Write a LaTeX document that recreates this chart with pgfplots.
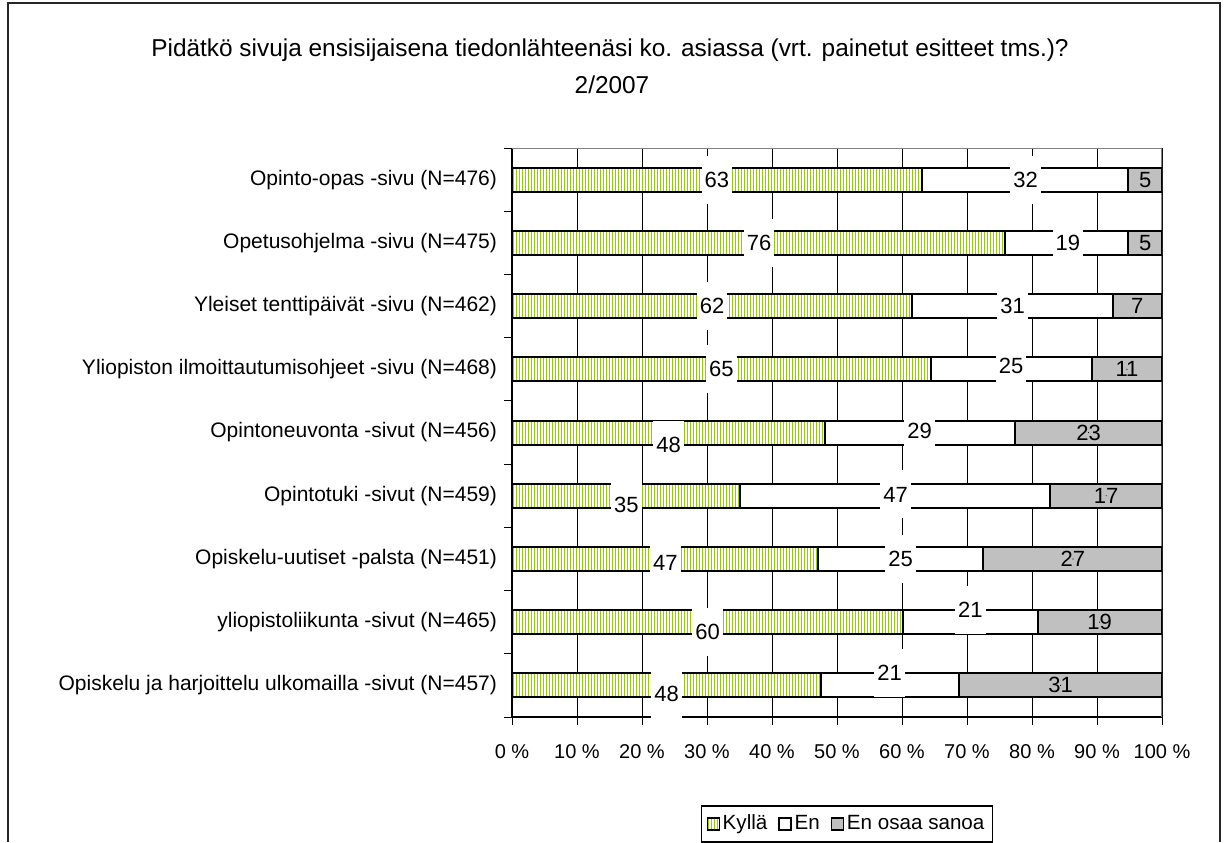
\documentclass[border=0pt]{standalone}
\usepackage{fontspec}
\setmainfont{Liberation Sans}
\usepackage{pgfplots}
\usepackage{pgfplotstable}
\pgfplotsset{compat=1.18}
\usetikzlibrary{patterns.meta}
\definecolor{kgreen}{RGB}{153,204,0}
\definecolor{egray}{RGB}{192,192,192}

\pgfplotstableread{
y kylla en eos
1 63.1 31.7 5.2
2 75.8 19.0 5.2
3 61.5 31.0 7.5
4 64.5 24.7 10.8
5 48.2 29.2 22.6
6 35.1 47.7 17.2
7 47.1 25.4 27.5
8 60.2 20.7 19.1
9 47.5 21.3 31.2
}\data

\pgfplotstableread{
x y label
31.5 1 63
79 1 32
38 2 76
85.5 2 19
30.8 3 62
77 3 31
32.2 4 65
76.8 3.94 25
24.1 5.19 48
62.7 4.98 29
17.6 6.14 35
59 5.98 47
23.6 7.07 47
59.8 7 25
30.1 8.16 60
70.5 7.8 21
23.8 9.14 48
58.1 8.8 21
}\lab

\pgfplotstableread{
x y label
97.4 1 5
97.4 2 5
96.2 3 7
94.6 4 11
88.7 5 23
91.4 6 17
86.3 7 27
90.4 8 19
84.4 9 31
}\labg

\newcommand{\fs}{\fontsize{10.5}{12}\selectfont}
\newcommand{\fn}{\fontsize{11}{12}\selectfont}

\begin{document}
\begin{tikzpicture}
\useasboundingbox (0,0) rectangle (612pt,421pt);
\draw[line width=0.9pt, black!85] (4pt,0) -- (4pt,419.5pt) -- (610pt,419.5pt) -- (610pt,0);
\node[font=\fontsize{12.2}{14}\selectfont] at (305pt,396pt) {Pidätkö sivuja ensisijaisena tiedonlähteenäsi ko. asiassa (vrt. painetut esitteet tms.)?};
\node[font=\fontsize{12.2}{14}\selectfont] at (306pt,378.5pt) {2/2007};

\begin{axis}[
  at={(256pt,62.5pt)}, anchor=south west,
  scale only axis, width=325pt, height=284.5pt,
  xmin=0, xmax=100, ymin=0.5, ymax=9.5, y dir=reverse,
  xbar stacked, bar width=12pt,
  axis x line=bottom, axis y line=left, axis line style={-, black, line width=0.6pt},
  tick align=outside, major tick length=4pt, minor tick length=4pt,
  tick style={black, line width=0.5pt},
  xtick={0,10,...,100},
  xticklabel={\pgfmathprintnumber[assume math mode=true]{\tick}~\%},
  xticklabel style={font=\fontsize{10}{12}\selectfont, yshift=-6pt},
  xmajorgrids, major grid style={black, line width=0.5pt},
  ytick={1,2,3,4,5,6,7,8,9},
  yticklabels={Opinto-opas -sivu (N=476),Opetusohjelma -sivu (N=475),Yleiset tenttipäivät -sivu (N=462),Yliopiston ilmoittautumisohjeet -sivu (N=468),Opintoneuvonta -sivut (N=456),Opintotuki -sivut (N=459),Opiskelu-uutiset -palsta (N=451),yliopistoliikunta -sivut (N=465),Opiskelu ja harjoittelu ulkomailla -sivut (N=457)},
  yticklabel style={font=\fs},
  every major y tick/.append style={draw=none},
  minor ytick={0.5,1.5,...,9.5},
  legend style={at={(0.74,-0.188)}, anchor=east, draw=black, line width=0.6pt, font=\fontsize{10.3}{12}\selectfont, legend columns=3, inner sep=2.5pt,
    nodes={inner xsep=1.5pt},
    /tikz/every even column/.append style={column sep=4pt},
    /tikz/every odd column/.append style={column sep=0pt}},
  legend image code/.code={\draw[#1, line width=0.6pt] (0pt,-3pt) rectangle (6pt,3pt);},
]
\addplot[draw=black, line width=1pt, fill=white, postaction={pattern={Lines[angle=90,distance=1.5pt,line width=0.35pt]}, pattern color=kgreen}] table[x=kylla,y=y]{\data};
\addplot[draw=black, line width=1pt, fill=white] table[x=en,y=y]{\data};
\addplot[draw=black, line width=1pt, fill=egray] table[x=eos,y=y]{\data};
\legend{Kyllä,En,En osaa sanoa}
\draw[gray, line width=0.9pt] (axis cs:0,0.5) -- (axis cs:100,0.5) -- (axis cs:100,9.5);
\end{axis}

\begin{axis}[
  at={(256pt,62.5pt)}, anchor=south west,
  scale only axis, width=325pt, height=284.5pt,
  xmin=0, xmax=100, ymin=0.5, ymax=9.5, y dir=reverse,
  hide axis, clip=false,
]
\addplot[only marks, mark=*, mark size=0.01pt, mark options={draw=none,fill=none},
  nodes near coords, point meta=explicit symbolic,
  nodes near coords style={anchor=center, fill=white, inner xsep=1.5pt, inner ysep=0pt, minimum height=24pt, font=\fn, text=black}]
  table[x=x,y=y,meta=label]{\lab};
\addplot[only marks, mark=*, mark size=0.01pt, mark options={draw=none,fill=none},
  nodes near coords, point meta=explicit symbolic,
  nodes near coords style={anchor=center, font=\fn, text=black}]
  table[x=x,y=y,meta=label]{\labg};
\end{axis}
\end{tikzpicture}
\end{document}
